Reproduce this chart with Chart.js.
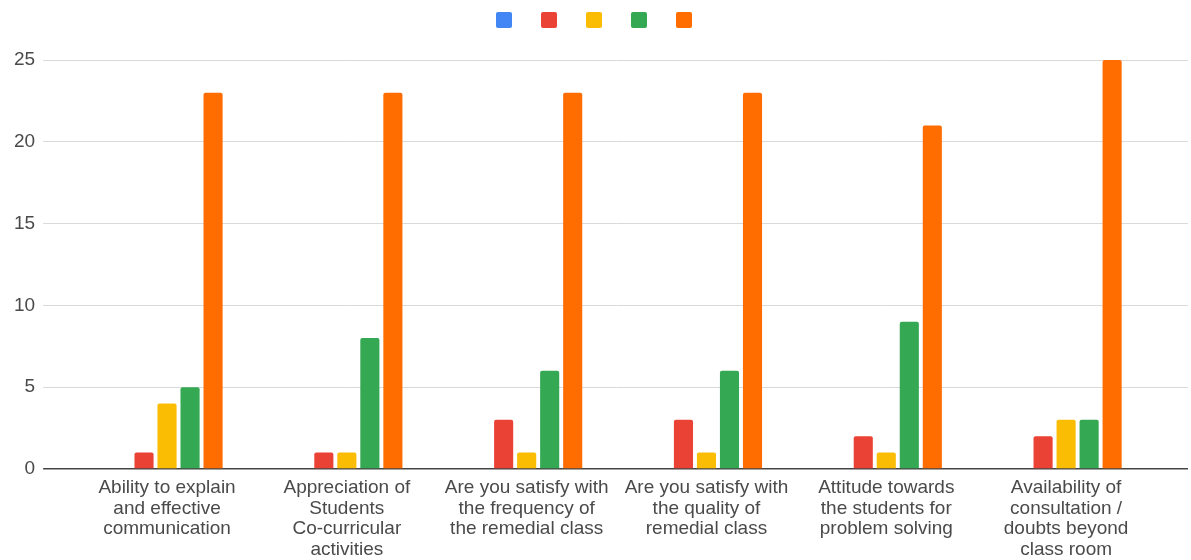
<!DOCTYPE html>
<html>
<head>
<meta charset="utf-8">
<script src="https://cdn.jsdelivr.net/npm/chart.js@4"></script>
<style>
  html, body { margin: 0; padding: 0; background: #fff; }
  #wrap { width: 1191px; height: 560px; position: relative; }
</style>
</head>
<body>
<div id="wrap"><canvas id="chart"></canvas></div>
<script>
// categories (multi-line labels as in the picture)
var categories = [
    ['Ability to explain', 'and effective', 'communication'],
    ['Appreciation of', 'Students', 'Co-curricular', 'activities'],
    ['Are you satisfy with', 'the frequency of', 'the remedial class'],
    ['Are you satisfy with', 'the quality of', 'remedial class'],
    ['Attitude towards', 'the students for', 'problem solving'],
    ['Availability of', 'consultation /', 'doubts beyond', 'class room']
];
// series values
var blueValues   = [0, 0, 0, 0, 0, 0];
var redValues    = [1, 1, 3, 3, 2, 2];
var yellowValues = [4, 1, 1, 1, 1, 3];
var greenValues  = [5, 8, 6, 6, 9, 3];
var orangeValues = [23, 23, 23, 23, 21, 25];
// tick labels of the value axis
var yTicks = [0, 5, 10, 15, 20, 25];

var colors = ['#4285F4', '#EA4335', '#FBBC04', '#34A853', '#FF6D01'];

Chart.defaults.font.family = "'Liberation Sans', Arial, sans-serif";
Chart.defaults.color = '#4a4a4a';

var gridColor = function (ctx) {
    return ctx.tick && ctx.tick.value === 0 ? '#444' : '#d9d9d9';
};
var gridWidth = function (ctx) {
    return ctx.tick && ctx.tick.value === 0 ? 1.5 : 1;
};

var makeSet = function (values, i) {
    return {
        label: '',
        data: values,
        backgroundColor: colors[i],
        borderWidth: 0,
        borderRadius: { topLeft: 2, topRight: 2 },
        borderSkipped: 'start',
        categoryPercentage: 0.64,
        barPercentage: 0.83
    };
};

var ctx = document.getElementById('chart');
var myChart = new Chart(ctx, {
    type: 'bar',
    data: {
        labels: categories,
        datasets: [
            makeSet(blueValues, 0),
            makeSet(redValues, 1),
            makeSet(yellowValues, 2),
            makeSet(greenValues, 3),
            makeSet(orangeValues, 4)
        ]
    },
    options: {
        responsive: true,
        maintainAspectRatio: false,
        animation: false,
        layout: { padding: { left: 6, right: 3, top: -11, bottom: -9 } },
        plugins: {
            tooltip: { enabled: false },
            legend: {
                position: 'top',
                align: 'center',
                labels: {
                    boxWidth: 16,
                    boxHeight: 16,
                    padding: 23,
                    useBorderRadius: true,
                    borderRadius: 2,
                    font: { size: 12 }
                }
            },
            // empty spacer between the legend and the plot
            title: {
                display: true,
                text: '',
                weight: 500,
                font: { size: 1, lineHeight: 1 },
                padding: { top: 0, bottom: 21 }
            }
        },
        scales: {
            x: {
                grid: { display: false, drawTicks: false },
                border: { display: false },
                ticks: {
                    autoSkip: false,
                    maxRotation: 0,
                    minRotation: 0,
                    padding: 9,
                    font: { size: 19, lineHeight: 1.08 }
                }
            },
            y: {
                position: 'left',
                min: yTicks[0],
                max: yTicks[yTicks.length - 1],
                border: { display: false },
                grid: {
                    color: gridColor,
                    lineWidth: gridWidth,
                    drawTicks: true,
                    tickLength: 34
                },
                ticks: {
                    stepSize: yTicks[1] - yTicks[0],
                    padding: 8,
                    font: { size: 19 }
                }
            },
            y2: {
                display: true,
                position: 'right',
                min: yTicks[0],
                max: yTicks[yTicks.length - 1],
                border: { display: false },
                grid: {
                    color: gridColor,
                    lineWidth: gridWidth,
                    drawOnChartArea: false,
                    drawTicks: true,
                    tickLength: 32
                },
                ticks: {
                    display: false,
                    stepSize: yTicks[1] - yTicks[0]
                }
            }
        }
    }
});
</script>
</body>
</html>
